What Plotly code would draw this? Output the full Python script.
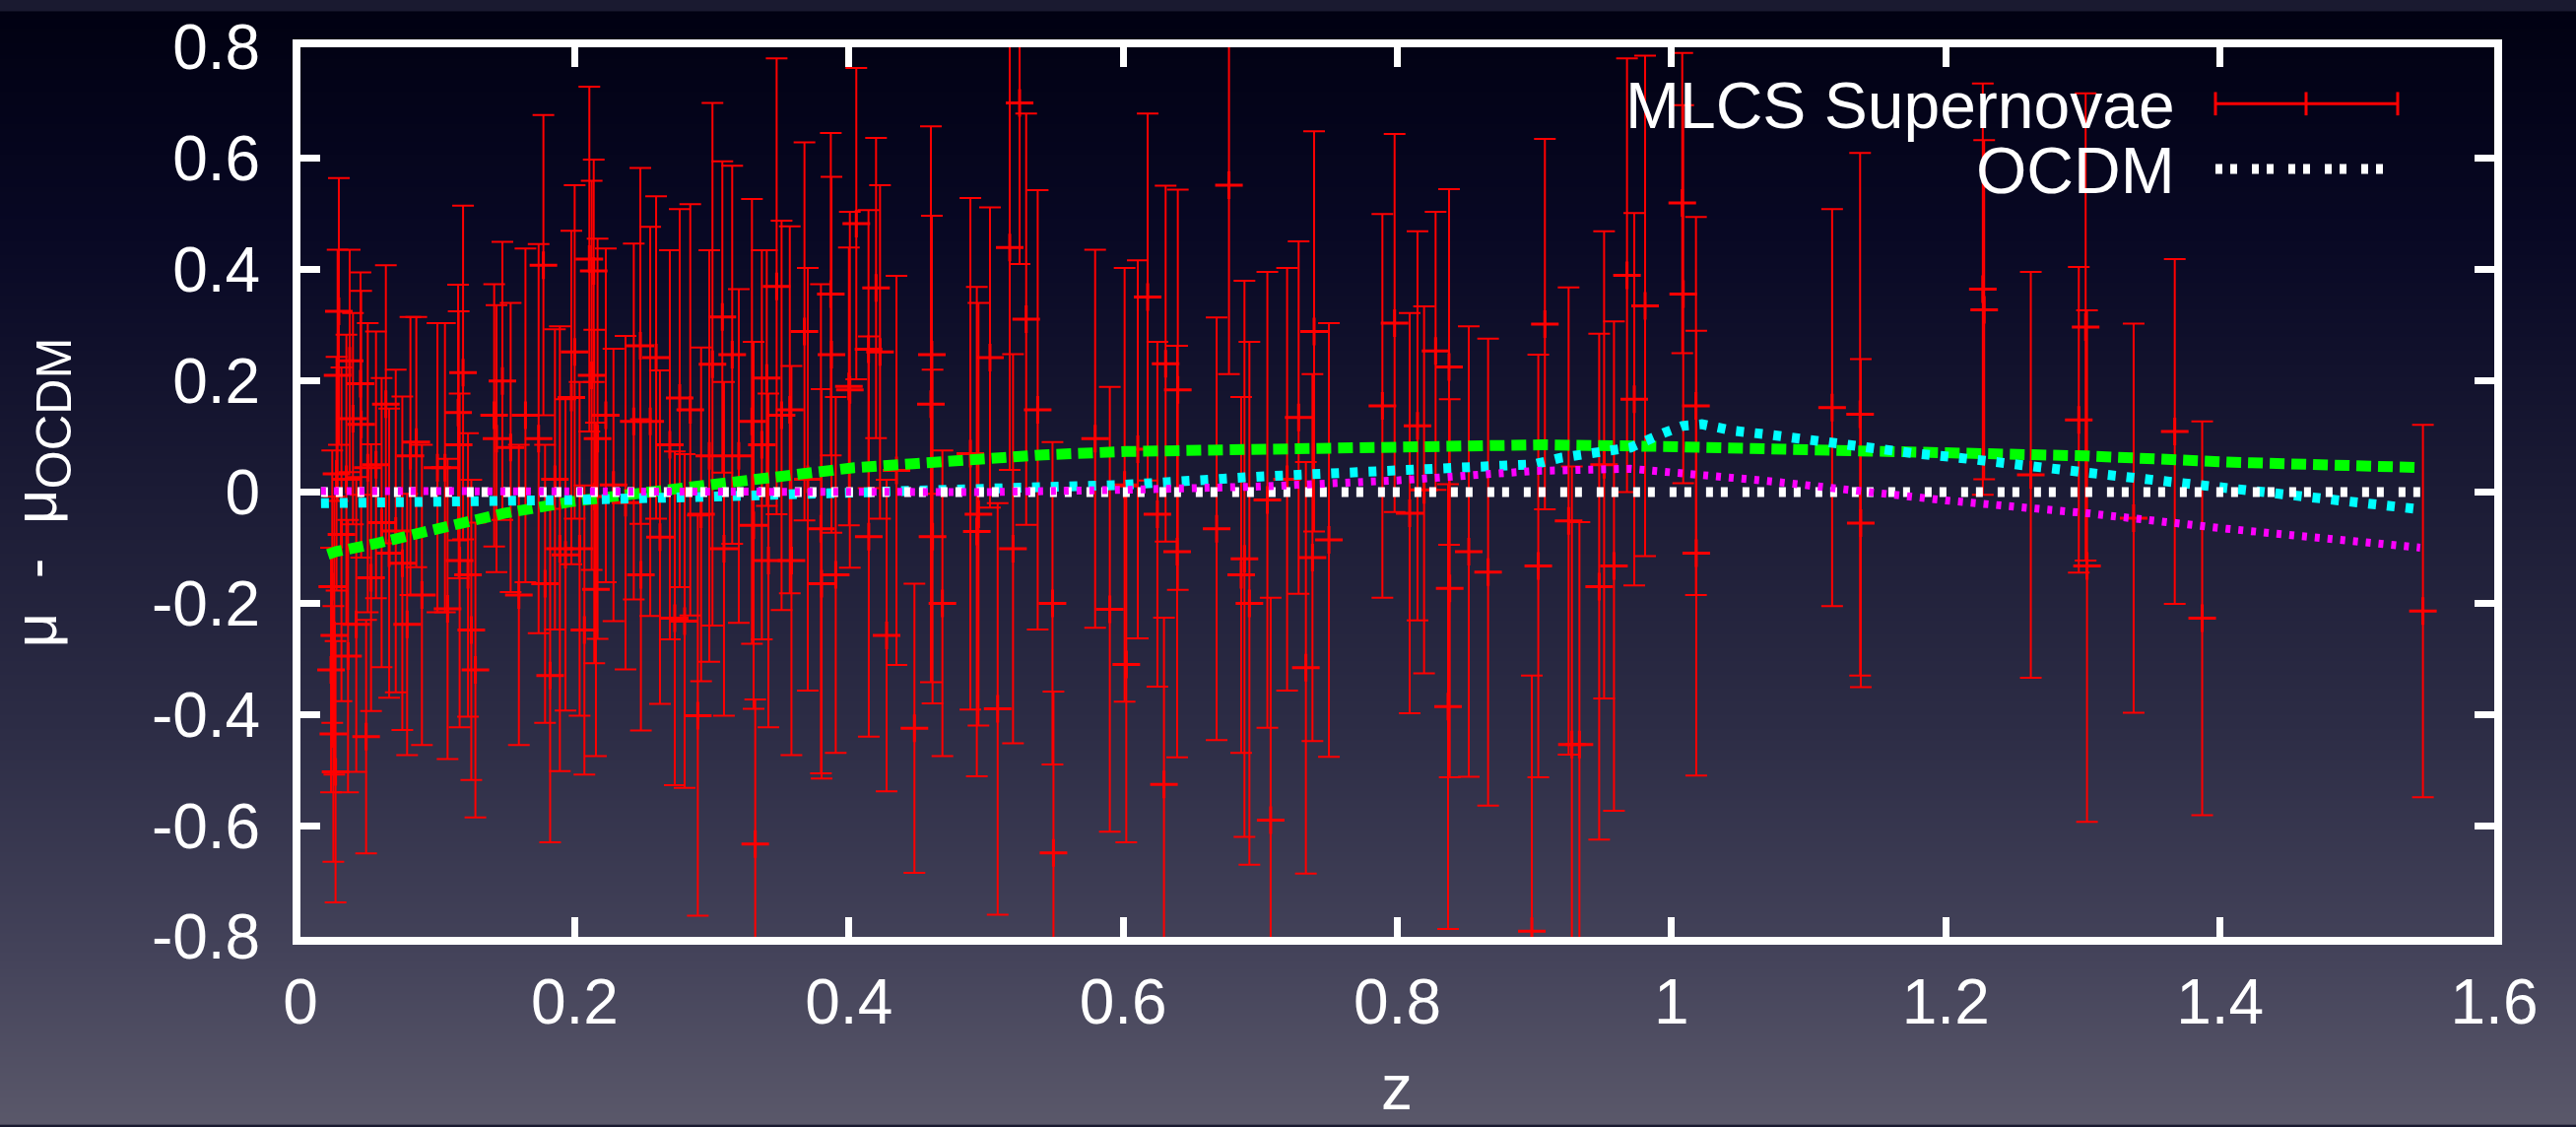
import struct, zlib, base64
import plotly.graph_objects as go

# ---------------- data ----------------
z_sn = [0.0223, 0.0232, 0.0240, 0.0247, 0.0256, 0.0263, 0.0271, 0.0280, 0.0299, 0.0335,
        0.0347, 0.0359, 0.0383, 0.0407, 0.0438, 0.0443, 0.0479, 0.0491, 0.0515, 0.0551,
        0.0592, 0.0623, 0.0647, 0.0695, 0.0743, 0.0778, 0.0802, 0.0845, 0.0886, 0.0999,
        0.1054, 0.1073, 0.1150, 0.1154, 0.1161, 0.1186, 0.1222, 0.1246, 0.1276, 0.1413,
        0.1430, 0.1473, 0.1533, 0.1593, 0.1641, 0.1737, 0.1772, 0.1784, 0.1821, 0.1856,
        0.1892, 0.1933, 0.1976,
        0.2000, 0.2036, 0.2071, 0.2107, 0.2124, 0.2139, 0.2143, 0.2155, 0.2167, 0.2227,
        0.2283, 0.2371, 0.2431, 0.2479, 0.2483, 0.2551, 0.2594, 0.2622, 0.2694, 0.2730,
        0.2766, 0.2802, 0.2843, 0.2898, 0.2922, 0.2982, 0.3005, 0.3077, 0.3089, 0.3149,
        0.3197, 0.3293, 0.3305, 0.3317, 0.3365, 0.3401, 0.3413, 0.3473, 0.3509, 0.3569,
        0.3581, 0.3676, 0.3700, 0.3796, 0.3801, 0.3868, 0.3873, 0.3904, 0.4000,
        0.4007, 0.4054, 0.4143, 0.4145, 0.4198, 0.4227, 0.4275, 0.4347, 0.4478, 0.4598,
        0.4605, 0.4610, 0.4682, 0.4886, 0.4933, 0.4945, 0.5029, 0.5085, 0.5173, 0.5197,
        0.5245, 0.5293, 0.5377, 0.5485, 0.5492, 0.5796, 0.5903, 0.6011, 0.6023,
        0.6107, 0.6179, 0.6250, 0.6310, 0.6394, 0.6399, 0.6298, 0.6682, 0.6772, 0.6861,
        0.6885, 0.6921, 0.7052, 0.7076, 0.7196, 0.7280, 0.7333, 0.7381, 0.7393, 0.7501,
        0.7891, 0.7980, 0.8090, 0.8147, 0.8195, 0.8279, 0.8377, 0.8382, 0.8370, 0.8521,
        0.8662, 0.8981,
        0.9028, 0.9076, 0.9249, 0.9273, 0.9328, 0.9472, 0.9508, 0.9580, 0.9675, 0.9728,
        0.9807, 1.0078, 1.0085, 1.0178, 1.0180, 1.1171, 1.1375, 1.1380,
        1.2270, 1.2280, 1.2620, 1.2970, 1.3020, 1.3030, 1.3370, 1.3670, 1.3870, 1.5480]

mu_sn = [-0.320, -0.170, -0.435, -0.258, -0.503, 0.033, 0.210, 0.325, -0.076, 0.023,
         -0.295, 0.236, 0.132, -0.238, 0.195, 0.122, -0.440, 0.044, -0.154, 0.049,
         -0.055, 0.158, -0.110, -0.070, -0.128, -0.238, 0.065, 0.090, -0.185, 0.044,
         0.044, -0.210, 0.143, 0.085, -0.123, 0.215, -0.149, -0.248, -0.320, 0.138,
         0.096, 0.200, 0.080, -0.185, 0.138, 0.096, 0.408, -0.165, -0.330, 0.023,
         -0.102, -0.113, 0.170,
         0.252, -0.102, -0.248, 0.419, 0.210, 0.398, -0.008, -0.175, 0.096, 0.138,
         0.013, -0.019, 0.127, 0.263, -0.149, 0.127, 0.242, -0.081, 0.085, -0.227,
         0.169, -0.232, 0.148, -0.402, -0.040, 0.065, 0.230, 0.315, -0.102, 0.247,
         0.065, 0.127, -0.060, -0.633, 0.085, 0.205, -0.123, 0.370, 0.138, 0.148,
         -0.123, 0.289, 0.023, -0.066, -0.165, 0.356, 0.247, -0.149, 0.190,
         0.184, 0.483, 0.257, -0.080, 0.367, 0.252, -0.258, 0.039, -0.425, 0.158,
         0.247, -0.080, -0.200, 0.069, -0.071, -0.040, 0.242, -0.390, 0.440, -0.102,
         0.700, 0.311, 0.148, -0.200, -0.649, 0.096, -0.211, 0.013, -0.310,
         0.077, 0.351, -0.040, 0.231, -0.107, 0.184, -0.526, -0.066, 0.552, -0.149,
         -0.120, -0.200, -0.014, -0.590, 0.023, 0.134, -0.316, -0.118, 0.289, -0.086,
         0.155, 0.304, -0.038, 0.119, 0.004, 0.254, 0.225, -0.173, -0.386, -0.107,
         -0.144, -0.790,
         -0.133, 0.302, -0.052, -0.454, -0.454, -0.170, 0.049, -0.133, 0.390, 0.167,
         0.335, 0.520, 0.356, 0.155, -0.110, 0.152, 0.140, -0.056,
         0.365, 0.328, 0.031, 0.130, 0.297, -0.133, -0.047, 0.109, -0.227, -0.214]

err_sn = [0.220, 0.245, 0.230, 0.250, 0.235, 0.210, 0.226, 0.240, 0.300, 0.260,
          0.245, 0.200, 0.190, 0.265, 0.200, 0.240, 0.210, 0.260, 0.240, 0.240,
          0.260, 0.250, 0.260, 0.290, 0.300, 0.235, 0.250, 0.225, 0.270, 0.260,
          0.260, 0.270, 0.230, 0.240, 0.300, 0.300, 0.255, 0.270, 0.265, 0.236,
          0.240, 0.250, 0.260, 0.270, 0.300, 0.350, 0.270, 0.250, 0.300, 0.270,
          0.400, 0.280, 0.300,
          0.300, 0.300, 0.260, 0.310, 0.350, 0.200, 0.300, 0.300, 0.360, 0.300,
          0.245, 0.300, 0.320, 0.320, 0.280, 0.350, 0.290, 0.300, 0.350, 0.300,
          0.340, 0.300, 0.370, 0.360, 0.300, 0.370, 0.470, 0.280, 0.300, 0.340,
          0.300, 0.400, 0.330, 0.260, 0.350, 0.230, 0.300, 0.410, 0.350, 0.330,
          0.350, 0.340, 0.380, 0.440, 0.350, 0.290, 0.320, 0.320, 0.250,
          0.320, 0.280, 0.250, 0.360, 0.270, 0.300, 0.280, 0.350, 0.260, 0.500,
          0.250, 0.300, 0.275, 0.460, 0.440, 0.380, 0.270, 0.370, 0.400, 0.350,
          0.290, 0.370, 0.395, 0.290, 0.290, 0.340, 0.400, 0.390, 0.320,
          0.340, 0.330, 0.310, 0.320, 0.370, 0.360, 0.300, 0.380, 0.340, 0.320,
          0.500, 0.470, 0.410, 0.400, 0.380, 0.317, 0.370, 0.330, 0.360, 0.390,
          0.345, 0.340, 0.360, 0.350, 0.330, 0.250, 0.320, 0.340, 0.400, 0.405,
          0.420, 0.460,
          0.380, 0.333, 0.420, 0.500, 0.400, 0.455, 0.420, 0.440, 0.390, 0.335,
          0.450, 0.270, 0.340, 0.340, 0.400, 0.357, 0.470, 0.295,
          0.370, 0.305, 0.365, 0.275, 0.420, 0.460, 0.350, 0.310, 0.354, 0.335]

# model curves
z_ocdm = [0.015, 1.546]
mu_ocdm = [0.0, 0.0]

z_green = [0.020, 0.026, 0.056, 0.088, 0.119, 0.149, 0.182, 0.198, 0.261, 0.293, 0.324,
           0.365, 0.391, 0.404, 0.447, 0.494, 0.542, 0.602, 0.692, 0.788, 0.905, 0.994,
           1.090, 1.207, 1.303, 1.405, 1.546]
mu_green = [-0.112, -0.107, -0.092, -0.071, -0.055, -0.038, -0.024, -0.017, 0.002, 0.012,
            0.022, 0.035, 0.041, 0.044, 0.051, 0.060, 0.067, 0.073, 0.078, 0.083, 0.085,
            0.082, 0.078, 0.069, 0.065, 0.054, 0.044]

z_cyan = [0.015, 0.100, 0.200, 0.300, 0.400, 0.500, 0.600, 0.700, 0.800, 0.850, 0.900,
          0.920, 0.946, 0.970, 0.994, 1.008, 1.022, 1.046, 1.072, 1.099, 1.138, 1.179,
          1.205, 1.303, 1.379, 1.456, 1.546]
mu_cyan = [-0.020, -0.018, -0.014, -0.008, -0.001, 0.007, 0.013, 0.028, 0.040, 0.045, 0.050,
           0.062, 0.073, 0.080, 0.106, 0.119, 0.122, 0.110, 0.103, 0.093, 0.082, 0.069,
           0.063, 0.035, 0.013, -0.005, -0.031]

z_mag = [0.015, 0.200, 0.400, 0.500, 0.600, 0.700, 0.800, 0.900, 0.970, 1.000, 1.020,
         1.070, 1.138, 1.200, 1.303, 1.405, 1.546]
mu_mag = [0.002, 0.000, -0.002, 0.000, 0.004, 0.010, 0.021, 0.038, 0.042, 0.037, 0.031,
          0.020, 0.000, -0.015, -0.038, -0.066, -0.100]

x_tick_vals = [0, 0.2, 0.4, 0.6, 0.8, 1.0, 1.2, 1.4, 1.6]
x_tick_text = ["0", "0.2", "0.4", "0.6", "0.8", "1", "1.2", "1.4", "1.6"]
y_tick_vals = [-0.8, -0.6, -0.4, -0.2, 0, 0.2, 0.4, 0.6, 0.8]
y_tick_text = ["-0.8", "-0.6", "-0.4", "-0.2", "0", "0.2", "0.4", "0.6", "0.8"]

legend_labels = ["MLCS Supernovae", "OCDM"]

# ---------------- layout geometry ----------------
W, H = 2615, 1144
ML, MR, MT, MB = 305, 83, 37, 193
PW, PH = W - ML - MR, H - MT - MB
FONT = "Liberation Sans, Arial, Helvetica, sans-serif"


def px(xp):
    return (xp - ML) / PW


def py(yp):
    return (MT + PH - yp) / PH


# background gradient as a generated PNG
def gradient_png(h, stops):
    def col(t):
        for (t0, c0), (t1, c1) in zip(stops[:-1], stops[1:]):
            if t0 <= t <= t1:
                f = (t - t0) / (t1 - t0) if t1 > t0 else 0
                return tuple(int(round(c0[k] + (c1[k] - c0[k]) * f)) for k in range(3))
        return stops[-1][1]
    w = 2
    raw = b"".join(b"\x00" + bytes(col(i / (h - 1))) * w for i in range(h))

    def chunk(tag, data):
        return (struct.pack(">I", len(data)) + tag + data +
                struct.pack(">I", zlib.crc32(tag + data) & 0xFFFFFFFF))
    png = (b"\x89PNG\r\n\x1a\n" +
           chunk(b"IHDR", struct.pack(">IIBBBBB", w, h, 8, 2, 0, 0, 0)) +
           chunk(b"IDAT", zlib.compress(raw, 9)) + chunk(b"IEND", b""))
    return "data:image/png;base64," + base64.b64encode(png).decode()


bg = gradient_png(H, [(0.00, (1, 1, 18)), (0.20, (8, 8, 36)), (0.42, (26, 26, 52)),
                      (0.65, (45, 45, 70)), (0.85, (68, 67, 90)), (1.00, (90, 88, 106))])

fig = go.Figure()

fig.add_trace(go.Scatter(
    x=z_sn, y=mu_sn, mode="markers", name=legend_labels[0], showlegend=False,
    marker=dict(symbol="cross-thin", size=20, color="#ff0000",
                line=dict(color="#ff0000", width=3)),
    error_y=dict(type="data", array=err_sn, visible=True, color="#ff0000",
                 thickness=2, width=11),
))

fig.add_trace(go.Scatter(x=z_green, y=mu_green, mode="lines", showlegend=False,
                         line=dict(color="#00ff00", width=11, dash="15px,7px")))
fig.add_trace(go.Scatter(x=z_cyan, y=mu_cyan, mode="lines", showlegend=False,
                         line=dict(color="#00ffff", width=10, dash="8px,11px")))
fig.add_trace(go.Scatter(x=z_ocdm, y=mu_ocdm, mode="lines", name=legend_labels[1],
                         showlegend=False,
                         line=dict(color="#ffffff", width=10, dash="7px,8px,7px,15px")))
fig.add_trace(go.Scatter(x=z_mag, y=mu_mag, mode="lines", showlegend=False,
                         line=dict(color="#ff00ff", width=8, dash="5px,8px")))

axis_common = dict(showgrid=False, zeroline=False, showline=True, linewidth=8,
                   linecolor="white", mirror="ticks", ticks="inside", ticklen=20,
                   tickwidth=7, tickcolor="white",
                   tickfont=dict(family=FONT, size=64, color="white"))

fig.update_xaxes(range=[0, 1.6], tickvals=x_tick_vals, ticktext=x_tick_text,
                 ticklabelstandoff=3, **axis_common)
fig.update_yaxes(range=[-0.8, 0.8], tickvals=y_tick_vals, ticktext=y_tick_text,
                 ticklabelstandoff=20, **axis_common)

shapes = []
# legend sample: error bar
ly1, ly2 = 95, 162
x0s, x1s, xm = 2249, 2434, 2341
red = dict(color="#ff0000", width=3)
shapes.append(dict(type="line", xref="paper", yref="paper", x0=px(x0s), x1=px(x1s),
                   y0=py(ly1), y1=py(ly1), line=red))
for xx in (x0s, xm, x1s):
    shapes.append(dict(type="line", xref="paper", yref="paper", x0=px(xx), x1=px(xx),
                       y0=py(ly1 - 12), y1=py(ly1 + 12), line=red))
shapes.append(dict(type="line", xref="paper", yref="paper", x0=px(2249), x1=px(2423),
                   y0=py(ly2), y1=py(ly2),
                   line=dict(color="white", width=10, dash="7px,8px,7px,15px")))

ytitle = ("μ\u00a0\u00a0-\u00a0\u00a0μ"
          "<span style='font-size:72px'><sub>OCDM</sub></span>")

annotations = [
    dict(xref="paper", yref="paper", x=px(2210), y=py(ly1 + 2), xanchor="right",
         yanchor="middle", text=legend_labels[0], showarrow=False,
         font=dict(family=FONT, size=66, color="white")),
    dict(xref="paper", yref="paper", x=px(2210), y=py(ly2 + 2), xanchor="right",
         yanchor="middle", text=legend_labels[1], showarrow=False,
         font=dict(family=FONT, size=66, color="white")),
    dict(xref="paper", yref="paper", x=px(1418), y=py(1106), xanchor="center",
         yanchor="middle", text="z", showarrow=False,
         font=dict(family=FONT, size=64, color="white")),
    dict(xref="paper", yref="paper", x=px(42), y=py(495), xanchor="center",
         yanchor="middle", text=ytitle, textangle=-90, showarrow=False,
         font=dict(family=FONT, size=62, color="white")),
]

fig.update_layout(
    width=W, height=H, autosize=False,
    margin=dict(l=ML, r=MR, t=MT, b=MB, pad=0),
    paper_bgcolor="#1a1a30", plot_bgcolor="rgba(0,0,0,0)",
    showlegend=False,
    images=[dict(source=bg, xref="paper", yref="paper", x=-ML / PW, y=1 + MT / PH,
                 sizex=W / PW, sizey=H / PH, xanchor="left", yanchor="top",
                 sizing="stretch", layer="below")],
    shapes=shapes, annotations=annotations,
)

fig.write_html("out.html")
